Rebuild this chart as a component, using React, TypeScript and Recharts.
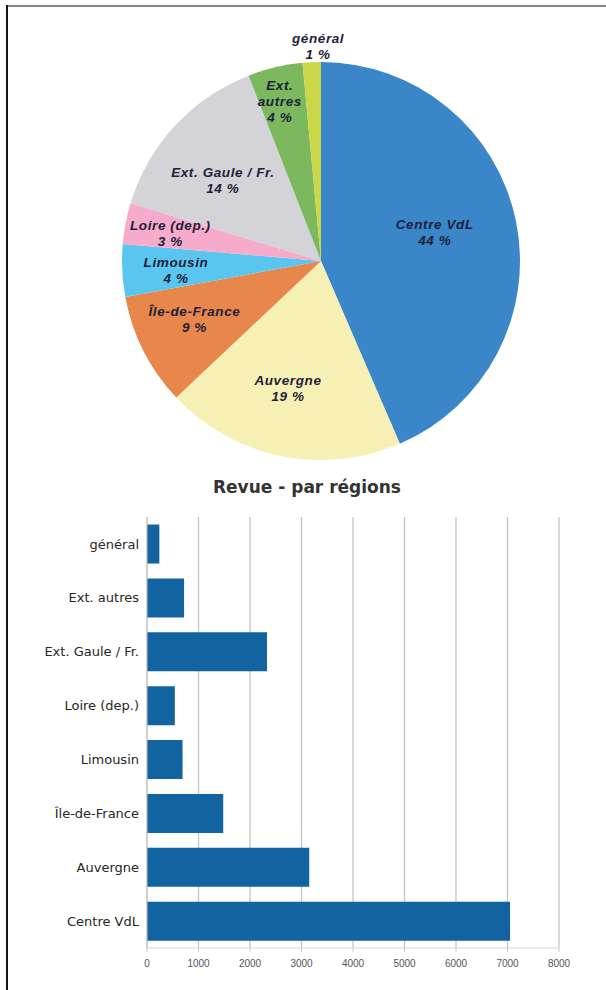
import React from "react";
import { PieChart, Pie, Cell, BarChart, Bar, XAxis, YAxis, CartesianGrid } from "recharts";

// Categories in pie order (clockwise from 12 o'clock)
const categories = [
  "Centre VdL",
  "Auvergne",
  "Île-de-France",
  "Limousin",
  "Loire (dep.)",
  "Ext. Gaule / Fr.",
  "Ext. autres",
  "général",
];

// Values
const values = [7050, 3150, 1480, 690, 540, 2330, 720, 240];

const xTicks = [0, 1000, 2000, 3000, 4000, 5000, 6000, 7000, 8000];

const pieColors = ["#3a86c8", "#f6f0b4", "#e8874c", "#5ac6ef", "#f5abc9", "#d3d3d8", "#7cb85e", "#c9d748"];

// label placement styling (relative to library geometry)
const labelRadiusFactor = [0.59, 0.66, 0.7, 0.73, 0.77, 0.64, 0.83, 1.08];
const labelAngleShift = [2.6, -2.9, -2.2, 0.8, 0.3, 3.2, 1.1, -1.9];
const labelBreak = [false, false, false, false, false, false, true, false];

const data = categories.map((name, i) => ({ name, value: values[i] }));

const RAD = Math.PI / 180;

const renderPieLabel = (props: any) => {
  const { cx, cy, midAngle, outerRadius, percent, index } = props;
  const r = outerRadius * labelRadiusFactor[index];
  const a = (midAngle + labelAngleShift[index]) * RAD;
  const x = cx + r * Math.cos(-a);
  const y = cy + r * Math.sin(-a);
  const name = categories[index];
  const lines = labelBreak[index] ? name.split(" ") : [name];
  lines.push(`${Math.round(percent * 100)} %`);
  const lh = 16;
  const start = -((lines.length - 1) * lh) / 2;
  return (
    <text
      x={x}
      y={y}
      textAnchor="middle"
      dominantBaseline="central"
      fill="#1e1e3a"
      style={{
        fontFamily: "'Liberation Sans', Arial, sans-serif",
        fontSize: 13.5,
        fontWeight: "bold",
        fontStyle: "italic",
        letterSpacing: 0.6,
      }}
    >
      {lines.map((l, i) => (
        <tspan key={i} x={x} y={y + start + i * lh}>
          {l}
        </tspan>
      ))}
    </text>
  );
};

export default function App() {
  return (
    <div style={{ position: "absolute", left: 0, top: 0, width: 606, height: 990, background: "#fff", overflow: "hidden" }}>
      <div style={{ position: "absolute", left: 6, top: 5, width: 600, height: 2, background: "#858585" }} />
      <div style={{ position: "absolute", left: 6, top: 5, width: 1.5, height: 985, background: "#151515" }} />

      <div style={{ position: "absolute", left: 0, top: 0 }}>
        <PieChart width={606} height={470}>
          <Pie
            data={data}
            dataKey="value"
            nameKey="name"
            cx={316}
            cy={256}
            outerRadius={199}
            startAngle={90}
            endAngle={-270}
            stroke="none"
            label={renderPieLabel}
            labelLine={false}
            isAnimationActive={false}
          >
            {data.map((d, i) => (
              <Cell key={d.name} fill={pieColors[i]} />
            ))}
          </Pie>
        </PieChart>
      </div>

      <div
        style={{
          position: "absolute",
          left: 0,
          top: 477,
          width: 614,
          textAlign: "center",
          fontFamily: "'DejaVu Sans', sans-serif",
          fontWeight: "bold",
          fontSize: 17,
          lineHeight: "20px",
          color: "#333",
        }}
      >
        Revue - par régions
      </div>

      <div style={{ position: "absolute", left: 0, top: 470 }}>
        <BarChart
          width={606}
          height={520}
          data={data}
          layout="vertical"
          margin={{ top: 47, right: 47, bottom: 12, left: 0 }}
          barCategoryGap="14%"
        >
          <CartesianGrid horizontal={false} stroke="#c4c4c4" strokeWidth={1.3} />
          <XAxis
            type="number"
            domain={[0, 8000]}
            ticks={xTicks}
            height={30}
            axisLine={{ stroke: "#d2dcc8" }}
            tickLine={{ stroke: "#cccccc" }}
            tickSize={4}
            tickMargin={7.5}
            tick={{ fontSize: 10, fill: "#555", fontFamily: "'Liberation Sans', Arial, sans-serif" }}
          />
          <XAxis
            xAxisId="top"
            orientation="top"
            type="number"
            domain={[0, 8000]}
            height={0}
            tick={false}
            tickLine={false}
            axisLine={{ stroke: "#d0d0d0" }}
          />
          <YAxis
            type="category"
            dataKey="name"
            reversed
            width={147}
            axisLine={{ stroke: "#c8c8c8" }}
            tickLine={false}
            tickSize={0}
            tickMargin={8}
            interval={0}
            tick={{ fontSize: 13, fill: "#262626", fontFamily: "'DejaVu Sans', sans-serif" }}
          />
          <Bar dataKey="value" fill="#11649f" isAnimationActive={false} />
        </BarChart>
      </div>
    </div>
  );
}
